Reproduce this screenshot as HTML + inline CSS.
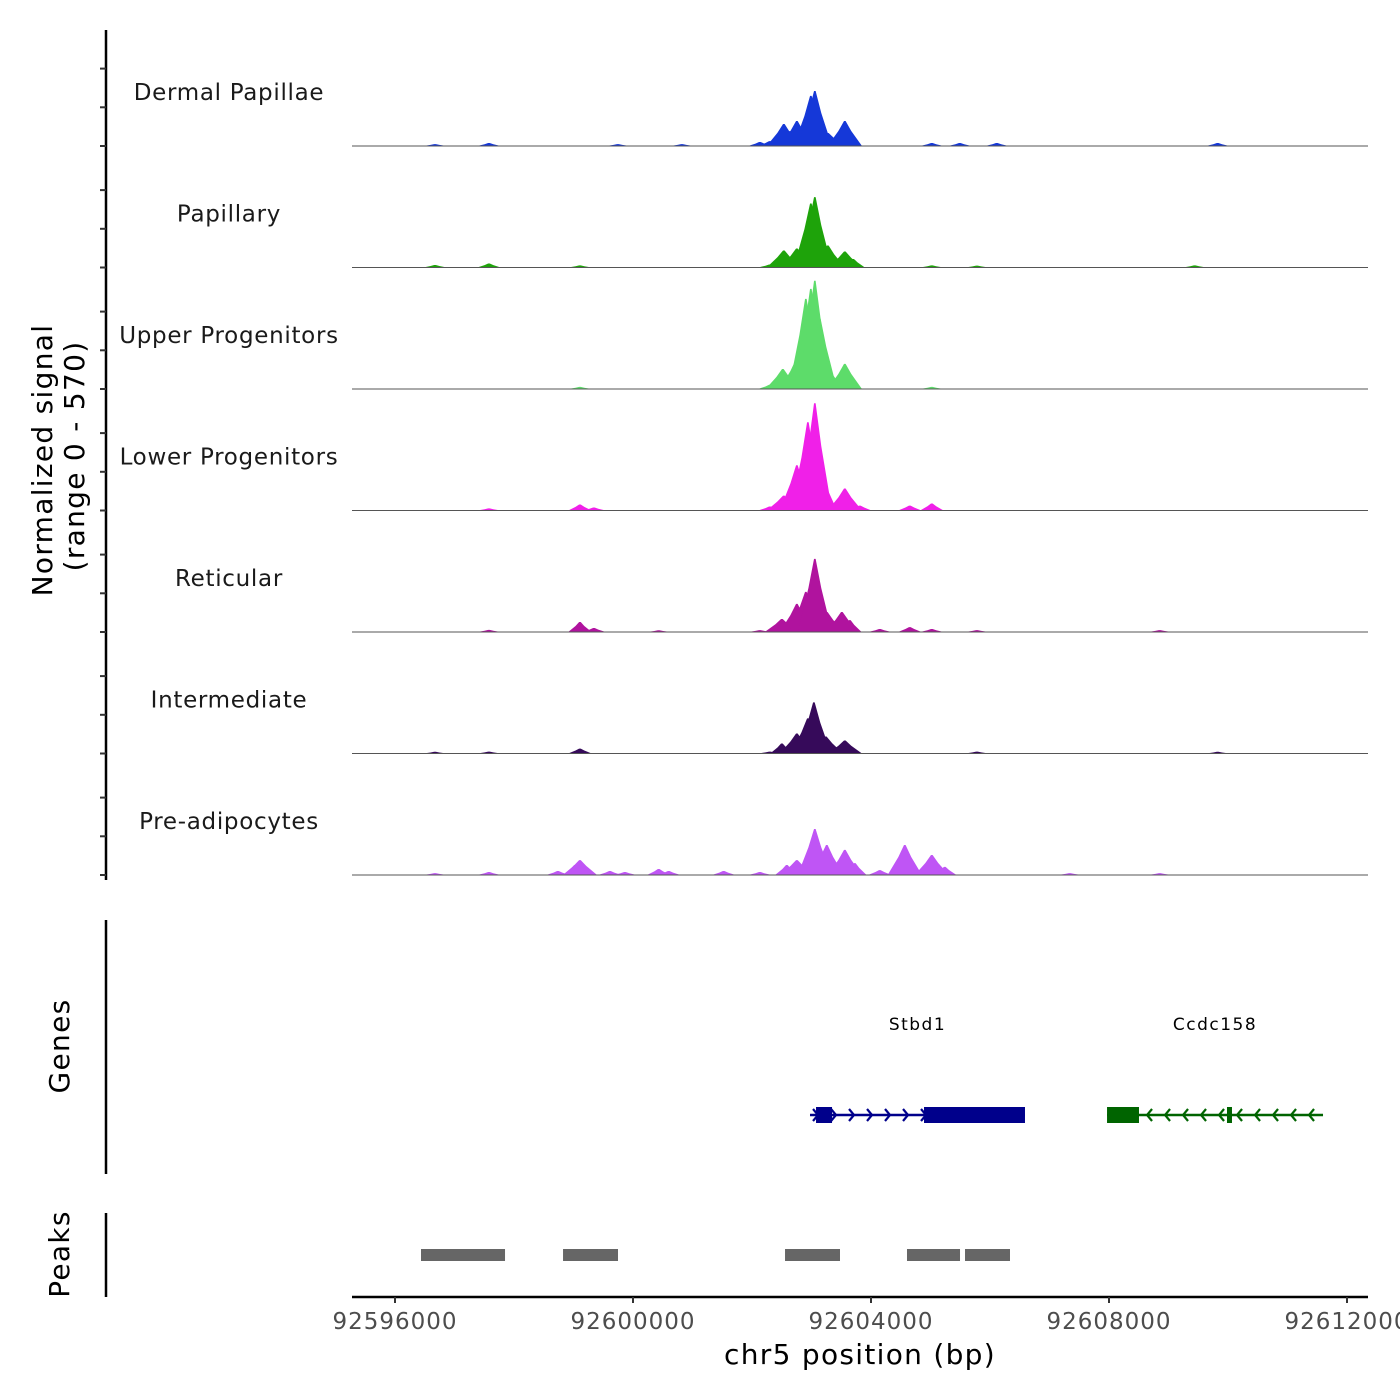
<!DOCTYPE html>
<html><head><meta charset="utf-8"><style>
html,body{margin:0;padding:0;background:#fff;}
svg{display:block;font-family:"DejaVu Sans","Liberation Sans",sans-serif;}
</style></head><body>
<svg id="chart" width="1400" height="1400" viewBox="0 0 1400 1400" xmlns="http://www.w3.org/2000/svg">
<rect width="1400" height="1400" fill="#fff"/>
<g id="tracks"></g>
<g id="genes"></g>
<g id="peaks"></g>
<g id="axes"></g>
</svg>
<script>
const NS="http://www.w3.org/2000/svg";
const xTicks=[92596000,92600000,92604000,92608000,92612000];
const xTickLabels=["92596000","92600000","92604000","92608000","92612000"];
const trackNames=["Dermal Papillae","Papillary","Upper Progenitors","Lower Progenitors","Reticular","Intermediate","Pre-adipocytes"];
const trackColors=["#1538d8","#1ea30a","#5ddc6a","#f020e8","#b0139e","#360a5a","#bf55f5"];
// peak positions (bp) and signal heights per track (range 0-570)
const dermalPos=[92596672,92597579,92599746,92600822,92602132,92602300,92602535,92602636,92602754,92602905,92602989,92603056,92603123,92603274,92603426,92603560,92605022,92605492,92606114,92609826];
const dermalVal=[9,14,9,9,19,23,103,70,117,70,235,258,94,61,47,117,14,14,14,14];
const papPos=[92596672,92597579,92599108,92602300,92602535,92602754,92602905,92602989,92603056,92603123,92603274,92603560,92603700,92605022,92605780,92609440];
const papVal=[12,19,10,14,80,89,80,300,330,110,103,75,40,10,9,10];
const upPos=[92599108,92602300,92602518,92602754,92602905,92602989,92603056,92603140,92603240,92603560,92605022];
const upVal=[10,20,94,141,423,470,508,330,118,118,10];
const lowPos=[92597579,92599108,92599343,92602300,92602535,92602754,92602855,92602939,92603056,92603140,92603308,92603560,92603812,92604652,92605022];
const lowVal=[10,28,14,19,70,212,235,414,503,188,38,103,23,23,33];
const retPos=[92597579,92599108,92599343,92600432,92602132,92602502,92602754,92602905,92603056,92603140,92603257,92603510,92603644,92604148,92604652,92605022,92605780,92608852];
const retVal=[10,47,19,8,9,61,132,188,343,110,94,94,56,14,23,14,9,9];
const intPos=[92596672,92597579,92599108,92602300,92602502,92602754,92602939,92603040,92603240,92603560,92605780,92609826];
const intVal=[8,9,23,9,47,94,165,240,80,61,9,8];
const prePos=[92596672,92597579,92598738,92599024,92599108,92599612,92599864,92600432,92600600,92601524,92602132,92602585,92602754,92603056,92603257,92603560,92603728,92604148,92604568,92605022,92605240,92607340,92608852];
const preVal=[9,14,19,47,70,19,14,28,19,19,14,47,70,216,141,118,56,23,141,94,38,9,9];
const geneNames=["Stbd1","Ccdc158"];
const geneStart=[92602975,92607967];
const geneEnd=[92606588,92611597];
const geneStrand=[1,-1];
const geneColors=["#00008b","#006400"];
const exonStart=[92603076,92604891,92607967,92609983];
const exonEnd=[92603345,92606588,92608504,92610067];
const exonGene=[0,0,1,1];
const peakStart=[92596437,92598824,92602555,92604605,92605580];
const peakEnd=[92597849,92599748,92603479,92605496,92606336];

const X0=352,X1=1368,BP0=92596000,PXPERBP=238/4000,PX0=395;
const x=bp=>PX0+(bp-BP0)*PXPERBP;
const TRACK_H=121.5, BASE0=146, YMAX=570;
const yh=v=>v/YMAX*TRACK_H;
const HALF=95;
function mk(tag,attrs,parent){const e=document.createElementNS(NS,tag);for(const k in attrs)e.setAttribute(k,attrs[k]);parent.appendChild(e);return e;}
const tracksG=document.getElementById('tracks');
const series=[[dermalPos,dermalVal],[papPos,papVal],[upPos,upVal],[lowPos,lowVal],[retPos,retVal],[intPos,intVal],[prePos,preVal]];
series.forEach((s,i)=>{
  const base=BASE0+i*TRACK_H;
  const g=mk('g',{},tracksG);
  
  
  const lab=mk('text',{x:229,y:base-46,'text-anchor':'middle','font-size':23,fill:'#1a1a1a','letter-spacing':'0.7'},g);
  lab.textContent=trackNames[i];
  
  
  s[0].forEach((p,j)=>{
    const h=yh(s[1][j]);const cx=x(p);const w=HALF*PXPERBP*(s[1][j]>60?1.9:1.3);
    const pk=mk('path',{d:`M${cx-w*1.6},${base} L${cx-w*0.6},${base-h*0.6} L${cx-0.8},${base-h} L${cx+0.8},${base-h} L${cx+w*0.6},${base-h*0.6} L${cx+w*1.6},${base} Z`,fill:trackColors[i]},g);
    
    
  });
  const bl=mk('line',{x1:X0,x2:X1,y1:base,y2:base,stroke:'#555','stroke-width':1},g);
  
  
});
// genes
const genesG=document.getElementById('genes');
const GY=1115;
geneNames.forEach((n,i)=>{
  const c=geneColors[i];const a=x(geneStart[i]),b=x(geneEnd[i]);
  const ln=mk('line',{x1:a,x2:b,y1:GY,y2:GY,stroke:c,'stroke-width':2.5},genesG);
  
  
  for(let k=a+6;k<b;k+=18){
    const d=geneStrand[i]>0?`M${k-3},${GY-6} L${k+2},${GY} L${k-3},${GY+6}`:`M${k+3},${GY-6} L${k-2},${GY} L${k+3},${GY+6}`;
    const ar=mk('path',{d,stroke:c,'stroke-width':2.2,fill:'none'},genesG);
    
    
  }
  const t=mk('text',{x:(a+b)/2,y:1030,'text-anchor':'middle','font-size':17,fill:'#000','letter-spacing':'1.5'},genesG);
  t.textContent=n;
  
  
});
exonStart.forEach((s,i)=>{
  const r=mk('rect',{x:x(s),y:GY-8,width:x(exonEnd[i])-x(s),height:16,fill:geneColors[exonGene[i]]},genesG);
  
  
});
// peaks
const peaksG=document.getElementById('peaks');
peakStart.forEach((s,i)=>{
  const r=mk('rect',{x:x(s),y:1249,width:x(peakEnd[i])-x(s),height:12,fill:'#666'},peaksG);
  
  
});
// axes
const ax=document.getElementById('axes');
const l1=mk('line',{x1:106,x2:106,y1:30,y2:880,stroke:'#000','stroke-width':2.5},ax);

for(let i=0;i<7;i++){for(let k=0;k<3;k++){const yy=BASE0+i*TRACK_H-k*38.7;
  const t=mk('line',{x1:100,x2:106,y1:yy,y2:yy,stroke:'#333','stroke-width':2},ax);
  }}
const l2=mk('line',{x1:106,x2:106,y1:920,y2:1174,stroke:'#000','stroke-width':2.5},ax);

const l3=mk('line',{x1:106,x2:106,y1:1213,y2:1297,stroke:'#000','stroke-width':2.5},ax);

const bx=mk('line',{x1:X0,x2:X1,y1:1297,y2:1297,stroke:'#000','stroke-width':2.5},ax);

xTicks.forEach((v,i)=>{
  const t=mk('line',{x1:x(v),x2:x(v),y1:1297,y2:1303,stroke:'#333','stroke-width':2},ax);
  
  const tl=mk('text',{x:x(v),y:1329,'text-anchor':'middle','font-size':23,fill:'#4d4d4d','letter-spacing':'1'},ax);
  tl.textContent=xTickLabels[i];
  
});
const TS={'text-anchor':'middle','font-size':28,fill:'#000','letter-spacing':'1.3'};
const xt=mk('text',Object.assign({x:860,y:1364},TS),ax);
xt.textContent='chr5 position (bp)';
const yt=mk('text',Object.assign({transform:'translate(52,460) rotate(-90)'},TS),ax);
yt.textContent='Normalized signal';
const yt2=mk('text',Object.assign({transform:'translate(84,456) rotate(-90)'},TS),ax);
yt2.textContent='(range 0 - 570)';
const gt=mk('text',Object.assign({transform:'translate(69,1046) rotate(-90)'},TS),ax);
gt.textContent='Genes';
const pt=mk('text',Object.assign({transform:'translate(69,1254) rotate(-90)'},TS),ax);
pt.textContent='Peaks';
</script>
</body></html>
